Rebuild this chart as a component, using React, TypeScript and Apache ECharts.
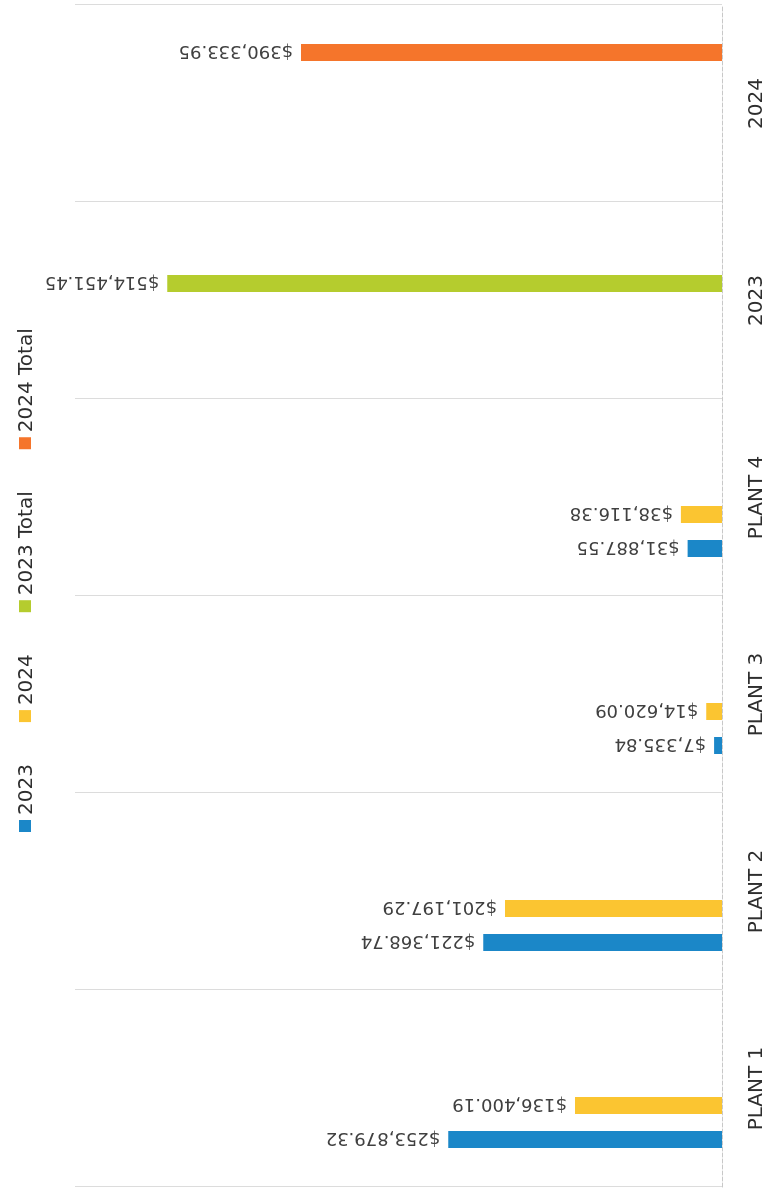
import React, { useEffect, useRef } from "react";
import * as echarts from "echarts";

const categories = ["PLANT 1", "PLANT 2", "PLANT 3", "PLANT 4", "2023", "2024"];
const seriesNames = ["2023", "2024", "2023 Total", "2024 Total"];
const values2023 = [253879.32, 221368.74, 7335.84, 31887.55, null, null];
const values2024 = [136400.19, 201197.29, 14620.09, 38116.38, null, null];
const total2023 = [null, null, null, null, 514451.45, null];
const total2024 = [null, null, null, null, null, 390333.95];
const valueMax = 600000;

const colors = ["#1b87c8", "#fbc531", "#b5cc2e", "#f5752b"];
const FONT = "DejaVu Sans";

const fmt = (p: any) =>
  p.value == null
    ? ""
    : "$" +
      Number(p.value).toLocaleString("en-US", {
        minimumFractionDigits: 2,
        maximumFractionDigits: 2,
      });

export default function App() {
  const ref = useRef<HTMLDivElement>(null);
  useEffect(() => {
    if (!ref.current) return;
    const chart = echarts.init(ref.current, undefined, { renderer: "svg" });
    const seriesData = [values2023, values2024, total2023, total2024];
    chart.setOption({
      animation: false,
      backgroundColor: "#ffffff",
      color: colors,
      legend: {
        data: seriesNames,
        top: 10,
        left: 356,
        icon: "rect",
        itemWidth: 12,
        itemHeight: 12,
        itemGap: 42,
        textStyle: { fontSize: 20, color: "#2e2e2e", fontFamily: FONT },
      },
      grid: { left: 6, right: 5, top: 75, bottom: 48, containLabel: false },
      xAxis: {
        type: "category",
        data: categories,
        axisLine: { show: true, lineStyle: { color: "#c8c8c8", type: "dashed" } },
        axisTick: { show: false },
        axisLabel: { fontSize: 20, color: "#2e2e2e", margin: 23, fontFamily: FONT },
        splitLine: { show: true, lineStyle: { color: "#dcdcdc", width: 1 } },
      },
      yAxis: {
        type: "value",
        min: 0,
        max: valueMax,
        show: false,
      },
      series: seriesNames.map((name, i) => ({
        name,
        type: "bar",
        data: seriesData[i],
        barWidth: 17,
        barGap: "100%",
        itemStyle: { color: colors[i] },
        label: {
          show: true,
          position: "top",
          rotate: 90,
          align: "left",
          verticalAlign: "middle",
          distance: 8,
          fontSize: 18,
          color: "#404040",
          fontFamily: FONT,
          formatter: fmt,
        },
      })),
    });
    return () => chart.dispose();
  }, []);
  return (
    <div
      ref={ref}
      style={{
        position: "fixed",
        left: 0,
        top: 0,
        width: 1193,
        height: 770,
        transformOrigin: "0 0",
        transform: "translateY(1193px) rotate(-90deg)",
        background: "#ffffff",
      }}
    />
  );
}
